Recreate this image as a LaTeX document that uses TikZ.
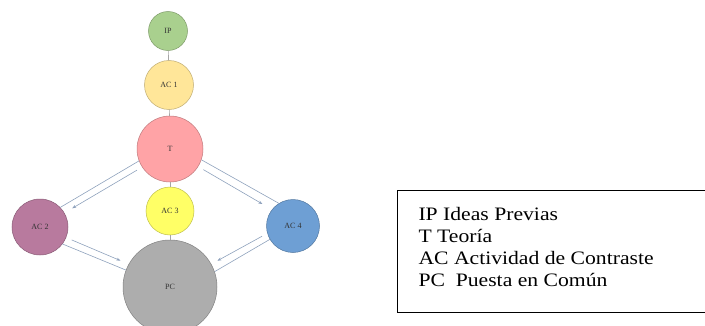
\documentclass[tikz,border=0pt]{standalone}
\usepackage{fontspec}
\setmainfont{Liberation Serif}
\newfontfamily\legendfont[FakeStretch=1.14]{Liberation Serif}
\usetikzlibrary{arrows.meta}
\definecolor{ipgreen}{HTML}{A9D08E}
\definecolor{acgold}{HTML}{FFE699}
\definecolor{tpink}{HTML}{FFA3A6}
\definecolor{acyellow}{HTML}{FFFF66}
\definecolor{acmauve}{HTML}{B87A9E}
\definecolor{acblue}{HTML}{6E9FD4}
\definecolor{pcgrey}{HTML}{ADADAD}
\definecolor{linkblue}{HTML}{8EA1BC}
\definecolor{tipblue}{HTML}{4A6A96}
\tikzset{
  phase/.style={circle, draw=#1!75!black, fill=#1, line width=0.5pt,
    inner sep=0pt, font=\fontsize{8}{9}\selectfont, text=black!80},
  stem/.style={draw=black!35, line width=0.6pt},
  link/.style={draw=linkblue, line width=0.6pt},
  flow/.style={link, -{Stealth[length=4pt, width=3pt, fill=tipblue]}}
}
\begin{document}
\begin{tikzpicture}[x=1pt, y=1pt]
    \useasboundingbox (0,0) rectangle (705,325);
    % Drawing the phases
    \node [phase=ipgreen, minimum size=39pt] (IP) at (168,294) {IP};
    \node [phase=acgold, minimum size=49pt] (AC1) at (169,240) {AC 1};
    \node [phase=tpink, minimum size=66pt] (T) at (170,176) {T};
    \node [phase=acyellow, minimum size=48pt] (AC3) at (170,114) {AC 3};
    \node [phase=acmauve, minimum size=56pt] (AC2) at (40,98) {AC 2};
    \node [phase=acblue, minimum size=53pt] (AC4) at (293,99) {AC 4};
    \node [phase=pcgrey, minimum size=94pt] (PC) at (170,38) {PC};
    % Drawing the vertical links
    \draw [stem] (IP) -- (AC1);
    \draw [stem] (AC1) -- (T);
    \draw [stem] (T) -- (AC3);
    \draw [stem] (AC3) -- (PC);
    % Drawing the double links
    \draw [link] (T.201) -- (AC2.44);
    \draw [flow, shorten <=6pt, shorten >=9pt] (T.213) -- (AC2.30);
    \draw [link] (T.341) -- (AC4.122);
    \draw [flow, shorten <=6pt, shorten >=11pt] (T.328) -- (AC4.142);
    \draw [link] (AC2.323) -- (PC.159);
    \draw [flow, shorten <=6pt, shorten >=9pt] (AC2.338) -- (PC.151);
    \draw [link] (AC4.210) -- (PC.19);
    \draw [flow, shorten <=6pt, shorten >=7pt] (AC4.196) -- (PC.29);
    % Drawing the legend
    \draw [line width=1.1pt] (397.3,12.7) rectangle (707,134.3);
    \node [anchor=north west, inner sep=0pt, align=left,
      font=\legendfont\fontsize{19}{22.2}\selectfont] (legend) at (418.3,118)
      {IP Ideas Previas\\T Teoría\\AC Actividad de Contraste\\PC\ \ Puesta en Común};
\end{tikzpicture}
\end{document}
